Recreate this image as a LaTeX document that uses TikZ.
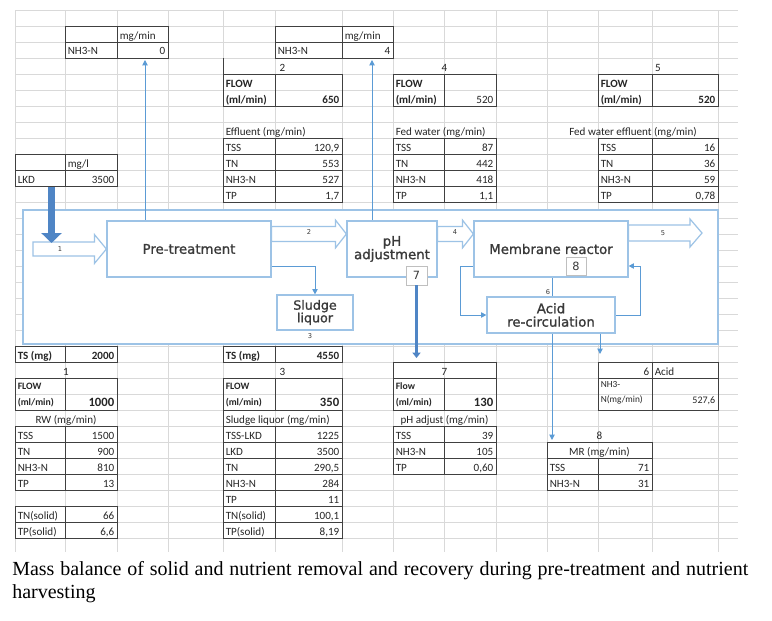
\documentclass[tikz,border=0pt]{standalone}
\usepackage{fontspec}
\setmainfont{Liberation Serif}
\newfontfamily\calib{Carlito}
\newfontfamily\dejav[FakeBold=1.2]{DejaVu Sans}
\newfontfamily\dejavs{DejaVu Sans}
\usetikzlibrary{calc,arrows.meta}
\pgfdeclarelayer{bgzero}
\pgfdeclarelayer{bgone}
\pgfsetlayers{bgzero,bgone,main}
\definecolor{gridc}{HTML}{D9D9D9}
\definecolor{tabc}{HTML}{404040}
\definecolor{boxc}{HTML}{9DC3E6}
\definecolor{arrc}{HTML}{5B9BD5}
\definecolor{thickc}{HTML}{4F85C5}
\definecolor{dtext}{HTML}{3A3A3A}
\definecolor{smallbox}{HTML}{BFBFBF}
\newcounter{cellno}
\newcommand\cL[3]{\stepcounter{cellno}\node[celltxt,anchor=base west] (cell\arabic{cellno}) at (#1+2.5,#2+13) {#3};}
\newcommand\cR[3]{\stepcounter{cellno}\node[celltxt,anchor=base east] (cell\arabic{cellno}) at (#1-2.5,#2+13) {#3};}
\newcommand\cC[3]{\stepcounter{cellno}\node[celltxt,anchor=base] (cell\arabic{cellno}) at (#1,#2+13) {#3};}
\newcommand\ttab[5]{\foreach \k in {1,...,#5}{\draw[tabline] (#1,{#4+16*(\k-1)}) rectangle (#2,{#4+16*\k}); \draw[tabline] (#2,{#4+16*(\k-1)}) rectangle (#3,{#4+16*\k});}}
\newcommand\flowbox[4]{\draw[tabline] (#1,#4) rectangle (#2,#4+32); \draw[tabline] (#2,#4) rectangle (#3,#4+32);}
\newcommand\blockarr[5]{\draw[barrow] ($(#1)+(0,-#3)$) -- ($(#2)+(-#5,-#3)$) -- ($(#2)+(-#5,-#4)$) -- (#2) -- ($(#2)+(-#5,#4)$) -- ($(#2)+(-#5,#3)$) -- ($(#1)+(0,#3)$) -- cycle;}
\newcommand\smallf{\fontsize{7.3}{8}\selectfont}
\newcommand\bigb{\fontsize{9.5}{10}\selectfont\bfseries}
\begin{document}
\begin{tikzpicture}[x=0.75pt,y=-0.75pt,
  gridl/.style={gridc, line width=0.5pt},
  tabline/.style={tabc, line width=0.75pt},
  celltxt/.style={inner sep=0pt, font=\calib\fontsize{8.3}{10}\selectfont, text=black!85},
  dbox/.style={draw=boxc, line width=0.9pt, fill=white, font=\dejav\fontsize{10}{10}\selectfont, text=dtext, align=center, inner sep=0pt},
  barrow/.style={draw=boxc, line width=0.9pt, fill=white, line join=miter},
  thinarr/.style={arrc, line width=0.75pt, -{Triangle[length=4pt,width=4pt]}},
  smalllab/.style={font=\dejavs\fontsize{5}{6}\selectfont, text=dtext, inner sep=0pt},
  numbox/.style={draw=smallbox, line width=0.6pt, fill=white, font=\dejavs\fontsize{8.5}{10}\selectfont, text=dtext, inner sep=0pt},
  outerbox/.style={draw=boxc, line width=0.9pt, fill=white, minimum width=521.25pt, minimum height=100.5pt, inner sep=0pt}]
\useasboundingbox (0,0) rectangle (772,621);
\begin{pgfonlayer}{bgzero}
\fill[white] (0,0) rectangle (772,621);
\foreach \k in {0,...,33} \draw[gridl] (15,{10+16*\k}) -- (738,{10+16*\k});
\foreach \c in {15,65,117,168,223,275,342,393,444,496,547,598,652,718} \draw[gridl] (\c,10) -- (\c,552);
\node[outerbox] (outer) at (370.5,277) {};
\end{pgfonlayer}

% ---------- top tables ----------
\ttab{65}{117}{168}{26}{2}
\cL{117}{26}{mg/min}\cL{65}{42}{NH3-N}\cR{168}{42}{0}
\ttab{275}{342}{393}{26}{2}
\cL{342}{26}{mg/min}\cL{275}{42}{NH3-N}\cR{393}{42}{4}

\draw[tabline] (223,58) -- (223,74);
\cC{282.5}{58}{2}
\flowbox{223}{275}{342}{74}
\cL{223}{74}{\bfseries FLOW}\cL{223}{90}{\bfseries (ml/min)}\cR{342}{90}{\bfseries 650}
\cL{223}{122}{Effluent (mg/min)}
\ttab{223}{275}{342}{138}{4}
\cL{223}{138}{TSS}\cR{342}{138}{120,9}
\cL{223}{154}{TN}\cR{342}{154}{553}
\cL{223}{170}{NH3-N}\cR{342}{170}{527}
\cL{223}{186}{TP}\cR{342}{186}{1,7}

\cC{444.5}{58}{4}
\flowbox{393}{444}{496}{74}
\cL{393}{74}{\bfseries FLOW}\cL{393}{90}{\bfseries (ml/min)}\cR{496}{90}{520}
\cL{393}{122}{Fed water (mg/min)}
\ttab{393}{444}{496}{138}{4}
\cL{393}{138}{TSS}\cR{496}{138}{87}
\cL{393}{154}{TN}\cR{496}{154}{442}
\cL{393}{170}{NH3-N}\cR{496}{170}{418}
\cL{393}{186}{TP}\cR{496}{186}{1,1}

\cC{658}{58}{5}
\flowbox{598}{652}{718}{74}
\cL{598}{74}{\bfseries FLOW}\cL{598}{90}{\bfseries (ml/min)}\cR{718}{90}{\bfseries 520}
\cC{633}{122}{Fed water effluent (mg/min)}
\ttab{598}{652}{718}{138}{4}
\cL{598}{138}{TSS}\cR{718}{138}{16}
\cL{598}{154}{TN}\cR{718}{154}{36}
\cL{598}{170}{NH3-N}\cR{718}{170}{59}
\cL{598}{186}{TP}\cR{718}{186}{0,78}

\ttab{15}{65}{117}{154}{2}
\cL{65}{154}{mg/l}\cL{15}{170}{LKD}\cR{117}{170}{3500}

% ---------- bottom tables ----------
\ttab{15}{65}{117}{346}{1}
\cL{15}{346}{\bfseries TS (mg)}\cR{117}{346}{\bfseries 2000}
\cC{66}{362}{1}
\flowbox{15}{65}{117}{378}
\cL{15}{376}{\smallf\bfseries FLOW}\cL{15}{392}{\smallf\bfseries (ml/min)}\cR{117}{393}{\bigb 1000}
\cC{66}{410}{RW (mg/min)}
\ttab{15}{65}{117}{426}{4}
\cL{15}{426}{TSS}\cR{117}{426}{1500}
\cL{15}{442}{TN}\cR{117}{442}{900}
\cL{15}{458}{NH3-N}\cR{117}{458}{810}
\cL{15}{474}{TP}\cR{117}{474}{13}
\ttab{15}{65}{117}{506}{2}
\cL{15}{506}{TN(solid)}\cR{117}{506}{66}
\cL{15}{522}{TP(solid)}\cR{117}{522}{6,6}

\ttab{223}{275}{342}{346}{1}
\cL{223}{346}{\bfseries TS (mg)}\cR{342}{346}{\bfseries 4550}
\cC{282.5}{362}{3}
\flowbox{223}{275}{342}{378}
\cL{223}{376}{\smallf\bfseries FLOW}\cL{223}{392}{\smallf\bfseries (ml/min)}\cR{342}{393}{\bigb 350}
\draw[tabline] (223,410) rectangle (342,426);
\cL{223}{410}{Sludge liquor (mg/min)}
\ttab{223}{275}{342}{426}{7}
\cL{223}{426}{TSS-LKD}\cR{342}{426}{1225}
\cL{223}{442}{LKD}\cR{342}{442}{3500}
\cL{223}{458}{TN}\cR{342}{458}{290,5}
\cL{223}{474}{NH3-N}\cR{342}{474}{284}
\cL{223}{490}{TP}\cR{342}{490}{11}
\cL{223}{506}{TN(solid)}\cR{342}{506}{100,1}
\cL{223}{522}{TP(solid)}\cR{342}{522}{8,19}

\draw[tabline] (393,362) rectangle (496,378);
\cC{444.5}{362}{7}
\flowbox{393}{444}{496}{378}
\cL{393}{376}{\smallf\bfseries Flow}\cL{393}{392}{\smallf\bfseries (ml/min)}\cR{496}{393}{\bigb 130}
\cC{444.5}{410}{pH adjust (mg/min)}
\ttab{393}{444}{496}{426}{3}
\cL{393}{426}{TSS}\cR{496}{426}{39}
\cL{393}{442}{NH3-N}\cR{496}{442}{105}
\cL{393}{458}{TP}\cR{496}{458}{0,60}

\ttab{598}{652}{718}{362}{1}
\cR{652}{362}{6}\cL{652}{362}{Acid}
\flowbox{598}{652}{718}{378}
\cL{598}{374}{\fontsize{7}{8}\selectfont NH3-}\cL{598}{389}{\fontsize{7}{8}\selectfont N(mg/min)}\cR{718}{390}{\fontsize{7.5}{8}\selectfont 527,6}

\cC{599.5}{426}{8}
\draw[tabline] (547,442) rectangle (652,458);
\cC{599.5}{442}{MR (mg/min)}
\ttab{547}{598}{652}{458}{2}
\cL{547}{458}{TSS}\cR{652}{458}{71}
\cL{547}{474}{NH3-N}\cR{652}{474}{31}

% ---------- diagram ----------
\node[dbox, minimum width=123pt, minimum height=42pt] (pre) at (189,249) {Pre-treatment};
\node[dbox, minimum width=67.5pt, minimum height=42pt] (ph) at (392,249) {pH\\adjustment};
\node[dbox, minimum width=115.5pt, minimum height=42pt] (mem) at (551,249) {Membrane reactor};
\node[dbox, minimum width=57pt, minimum height=26.25pt, font=\dejav\fontsize{9.5}{9.5}\selectfont] (sludge) at (315,312.5) {Sludge\\liquor};
\node[dbox, minimum width=96pt, minimum height=27pt] (acid) at (551,315) {Acid\\re-circulation};
\node[numbox, minimum width=15.75pt, minimum height=14.25pt] (box7) at (416.5,275.5) {7};
\node[numbox, minimum width=15pt, minimum height=13.5pt] (box8) at (576,266) {8};

\coordinate (a1s) at (33,249);
\blockarr{a1s}{pre.west}{7}{14.5}{12}
\coordinate (a2s) at ($(pre.east)+(0,-15)$);
\coordinate (a2e) at ($(ph.west)+(0,-15)$);
\blockarr{a2s}{a2e}{7.5}{14}{11}
\coordinate (a4s) at ($(ph.east)+(0,-15)$);
\coordinate (a4e) at ($(mem.west)+(0,-15)$);
\blockarr{a4s}{a4e}{7.5}{14}{11}
\coordinate (a5s) at ($(mem.east)+(0,-16)$);
\coordinate (a5e) at (702,233);
\blockarr{a5s}{a5e}{8}{14}{12}

\node[smalllab] (l1) at (60,249) {1};
\node[smalllab] (l2) at (309,232) {2};
\node[smalllab] (l4) at (455,232) {4};
\node[smalllab] (l5) at (663,233) {5};
\node[smalllab] (l3) at (310,336) {3};
\node[smalllab] (l6) at (548,292) {6};

\begin{pgfonlayer}{bgone}
\coordinate (t0b) at (145,60);
\draw[thinarr] (t0b |- pre.north) -- (t0b);
\coordinate (t4b) at (372,60);
\draw[thinarr] (t4b |- ph.north) -- (t4b);
\draw[thinarr] ($(pre.east)+(0,17)$) -| (sludge.north);
\draw[thinarr] ($(mem.west)+(0,17)$) -- ++(-13,0) |- (acid.west);
\draw[thinarr] (acid.east) -- ++(25,0) |- ($(mem.east)+(0,17)$);
\coordinate (t8t) at (552,440);
\draw[thinarr] (t8t |- mem.south) -- (t8t);
\coordinate (t6t) at (600,354);
\draw[thinarr] (t6t |- acid.south) -- (t6t);
\end{pgfonlayer}

\coordinate (lkdtop) at (51.5,187);
\coordinate (lkdtip) at (51.5,243);
\draw[line width=5.25pt, thickc, -{Triangle[length=7.5pt,width=15pt]}] (lkdtop) -- (lkdtip);
\coordinate (t7t) at (416.5,358);
\draw[line width=2.25pt, thickc, -{Triangle[length=4pt,width=6pt]}] (box7.south) -- (t7t);

% ---------- caption ----------
\node[anchor=north west, text width=552pt, align=justify, inner sep=0pt, font=\fontsize{15}{17.25}\selectfont] (cap) at (12,561) {Mass balance of solid and nutrient removal and recovery during pre-treatment and nutrient\linebreak harvesting};
\end{tikzpicture}
\end{document}
